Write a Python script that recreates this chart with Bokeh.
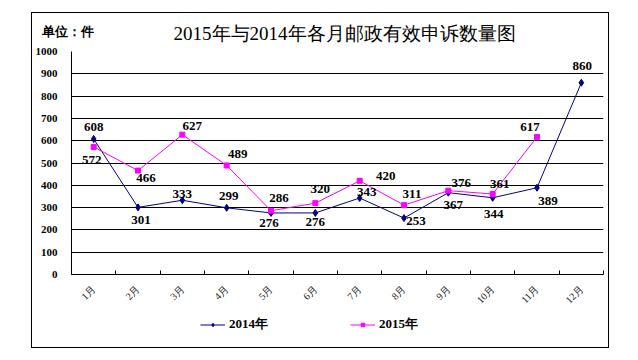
import numpy as np
from bokeh.plotting import figure
from bokeh.layouts import column
from bokeh.models import (FixedTicker, CustomJSTickFormatter, ColumnDataSource,
                          Legend, LegendItem, Label, Range1d)
from bokeh.core.properties import value
from bokeh.embed import file_html
from bokeh.resources import INLINE

# ---- data ----
months = ["1月", "2月", "3月", "4月", "5月", "6月", "7月", "8月", "9月", "10月", "11月", "12月"]
v2014 = [608, 301, 333, 299, 276, 276, 343, 253, 367, 344, 389, 860]
v2015 = [572, 466, 627, 489, 286, 320, 420, 311, 376, 361, 617]
y_ticks = [0, 100, 200, 300, 400, 500, 600, 700, 800, 900, 1000]
series_names = ["2014年", "2015年"]
title_text = "2015年与2014年各月邮政有效申诉数量图"
unit_text = "单位：件"

# ---- label placement (screen px offsets, style only) ----
dx14 = [0, 3, 0, 2, -2, 0, 7, 12, 5, 1, 11, 1]
dy14 = [-12, 13, -6, -12, 10, 9, -6, 3, 12, 16, 13, -17]
dx15 = [-2, 8, 10, 11, 8, 5, 26, 8, 13, 7, -7]
dy15 = [13, 7, -9, -11, -13, -14, -5, -11, -8, -10, -10]

SERIF = "Liberation Serif"
C14 = "#000080"
C15 = "#FF00FF"
W = 576


def blank(h):
    f = figure(width=W, height=h, output_backend="svg", toolbar_location=None,
               x_axis_type=None, y_axis_type=None, x_range=Range1d(0, 1), y_range=Range1d(0, 1),
               min_border=0, frame_align=False)
    f.outline_line_color = None
    f.grid.visible = False
    return f


# ---- header (title + unit) ----
head = blank(30)
head.add_layout(Label(x=312, y=10, x_units="screen", y_units="screen", text=title_text,
                      text_align="center", text_baseline="middle",
                      text_font=SERIF, text_font_size="19px", text_color="black"))
head.add_layout(Label(x=9, y=12, x_units="screen", y_units="screen", text=unit_text,
                      text_align="left", text_baseline="middle",
                      text_font=SERIF, text_font_style="bold", text_font_size="12.5px",
                      text_color="black"))

# ---- main chart ----
x14 = np.arange(len(v2014)) + 0.5
x15 = np.arange(len(v2015)) + 0.5
src14 = ColumnDataSource(dict(x=x14, y=v2014, t=[str(v) for v in v2014], dx=dx14, dy=dy14))
src15 = ColumnDataSource(dict(x=x15, y=v2015, t=[str(v) for v in v2015], dx=dx15, dy=dy15))

p = figure(width=W, height=269, output_backend="svg", toolbar_location=None,
           x_range=Range1d(0, len(months)), y_range=Range1d(y_ticks[0], y_ticks[-1]),
           min_border_left=38, min_border_right=5, min_border_top=8, min_border_bottom=38,
           frame_align=False)
p.outline_line_color = None

xa = p.xaxis[0]
xa.ticker = FixedTicker(ticks=list(x14), minor_ticks=list(range(len(months) + 1)))
xa.formatter = CustomJSTickFormatter(args=dict(labels=months),
                                     code="return labels[Math.floor(tick)];")
xa.major_tick_line_color = None
xa.minor_tick_in = 4
xa.minor_tick_out = 0
xa.minor_tick_line_color = "black"
xa.axis_line_color = "black"
xa.major_label_orientation = np.pi / 4
xa.major_label_text_font = SERIF
xa.major_label_text_font_size = "10px"
xa.major_label_text_color = "#222222"
xa.major_label_standoff = 7

ya = p.yaxis[0]
ya.ticker = FixedTicker(ticks=y_ticks, minor_ticks=[])
ya.major_tick_line_color = None
ya.minor_tick_line_color = None
ya.axis_line_color = "black"
ya.major_label_text_font = SERIF
ya.major_label_text_font_style = "bold"
ya.major_label_text_font_size = "11px"
ya.major_label_text_color = "black"
ya.major_label_standoff = 8

p.xgrid.grid_line_color = None
p.ygrid.grid_line_color = "black"
p.ygrid.grid_line_width = 1
p.ygrid.ticker = FixedTicker(ticks=y_ticks)

p.line("x", "y", source=src14, line_color=C14, line_width=1)
p.scatter("x", "y", source=src14, marker="diamond", size=7, fill_color=C14, line_color=C14)
p.line("x", "y", source=src15, line_color=C15, line_width=1)
p.scatter("x", "y", source=src15, marker="square", size=5, fill_color=C15, line_color=C15)

for src in (src14, src15):
    p.text("x", "y", text="t", source=src, x_offset="dx", y_offset="dy",
           text_align="center", text_baseline="middle",
           text_font=value(SERIF), text_font_style="bold", text_font_size="13px",
           text_color="black")

# ---- footer (legend); its renderers reuse the series but fall outside its view ----
foot = blank(35)
fl14 = foot.line("x", "y", source=src14, line_color=C14, line_width=1)
fs14 = foot.scatter("x", "y", source=src14, marker="diamond", size=7, fill_color=C14, line_color=C14)
fl15 = foot.line("x", "y", source=src15, line_color=C15, line_width=1)
fs15 = foot.scatter("x", "y", source=src15, marker="square", size=5, fill_color=C15, line_color=C15)
legend = Legend(items=[LegendItem(label=series_names[0], renderers=[fl14, fs14]),
                       LegendItem(label=series_names[1], renderers=[fl15, fs15])],
                orientation="horizontal", location=(168, 14),
                glyph_width=25, glyph_height=9, label_standoff=4, label_width=94, spacing=27,
                padding=0, margin=0, border_line_color=None, background_fill_alpha=0,
                label_text_font=SERIF, label_text_font_style="bold",
                label_text_font_size="13px", label_text_color="black")
foot.add_layout(legend, "center")

layout = column(head, p, foot, spacing=0, margin=(12, 0, 0, 31),
                styles={"border": "1px solid black", "background-color": "white"})

open("out.html", "w").write(file_html(layout, INLINE))
